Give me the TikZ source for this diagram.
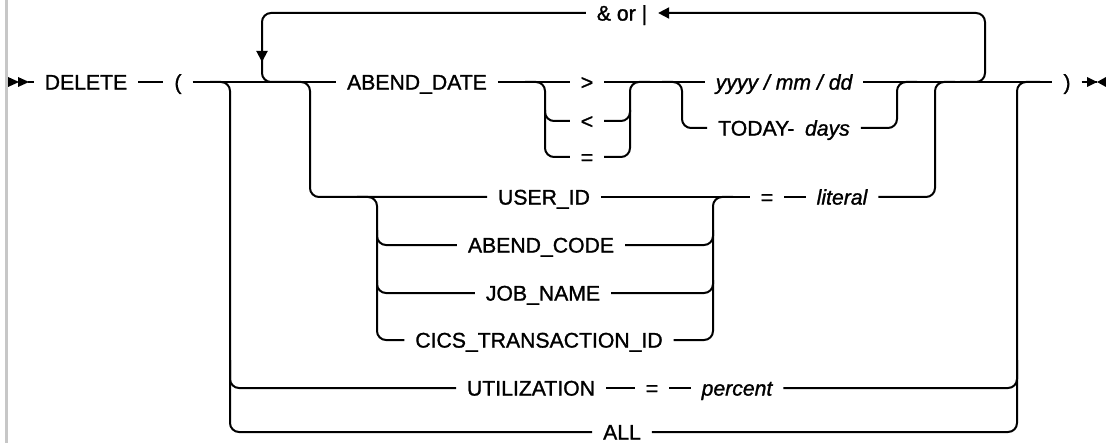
\documentclass[tikz,border=0pt]{standalone}
\usepackage{fontspec}
\setmainfont{Liberation Sans}[FakeBold=1.2]
\usetikzlibrary{arrows.meta}

\begin{document}
\begin{tikzpicture}[x=.5pt,y=-.5pt,line width=1pt,
  every node/.style={font=\fontsize{10.6}{12}\selectfont,inner xsep=5pt,inner ysep=0pt,
    text height=7.6pt,text depth=0pt},
  var/.style={font=\fontsize{10.6}{12}\selectfont\itshape},
  rail/.style={rounded corners=4.5pt},
  tip/.style={-{Triangle[length=5.5pt,width=5.5pt]}}]
  \path[use as bounding box] (0,0) rectangle (1106,443);
  \fill[black!22] (5,0) rectangle (8,443);
  % main line
  \node (del) at (86,82) {DELETE};
  \node (lp) at (178,82) {(};
  \node (adate) at (417,82) {ABEND\_DATE};
  \node (gt) at (587,82) {>};
  \node (lt) at (587,121) {<};
  \node (eqa) at (587,157) {=};
  \node[var] (ymd) at (784,82) {yyyy / mm / dd};
  \node (today) at (784,128) {TODAY-\enspace\textit{days}};
  \node (rp) at (1067,82) {)};
  \node (andor) at (622,13) {\& or |};
  \coordinate (st) at (28,82);
  \coordinate (en) at (1097,82);
  \fill (8,77)--(19,82)--(8,87)--cycle (18,77)--(29,82)--(18,87)--cycle;
  \fill (1087,77)--(1097,82)--(1087,87)--cycle (1106,77)--(1097,82)--(1106,87)--cycle;
  \draw (st) -- (del) -- (lp) -- (adate) -- (gt) -- (ymd) -- (rp) -- (en);
  % repeat loop
  \draw[rail,tip] (960,82) -- (985,82) -- (985,13) -- (andor);
  \draw[rail] (andor) -- (262,13) -- (262,82) -- (290,82);
  \draw[tip] (262,40) -- (262,62);
  % comparison
  \draw[rail] (525,82) -- (545,82) -- (545,157) -- (eqa);
  \draw[rail] (545,110) -- (545,121) -- (lt);
  \draw[rail] (eqa) -- (630,157) -- (630,82) -- (650,82);
  \draw[rail] (lt) -- (630,121) -- (630,110);
  % date
  \draw[rail] (662,82) -- (682,82) -- (682,128) -- (today);
  \draw[rail] (today) -- (897,128) -- (897,82) -- (917,82);
  % user id group
  \node (uid) at (544,197) {USER\_ID};
  \node (acode) at (541,245) {ABEND\_CODE};
  \node (job) at (543,293) {JOB\_NAME};
  \node (cics) at (539,340) {CICS\_TRANSACTION\_ID};
  \node (eqb) at (767,197) {=};
  \node[var] (lit) at (842,197) {literal};
  \draw (uid) -- (eqb) -- (lit);
  \draw[rail] (290,82) -- (310,82) -- (310,197) -- (uid);
  \draw[rail] (lit) -- (935,197) -- (935,82) -- (955,82);
  \draw[rail] (357,197) -- (377,197) -- (377,340) -- (cics);
  \draw[rail] (377,230) -- (377,245) -- (acode);
  \draw[rail] (377,280) -- (377,293) -- (job);
  \draw[rail] (cics) -- (713,340) -- (713,197) -- (733,197);
  \draw[rail] (acode) -- (713,245) -- (713,230);
  \draw[rail] (job) -- (713,293) -- (713,280);
  % utilization / all
  \node (util) at (531,388) {UTILIZATION};
  \node (equ) at (652,388) {=};
  \node[var] (pct) at (737,388) {percent};
  \node (all) at (622,432) {ALL};
  \draw (util) -- (equ) -- (pct);
  \draw[rail] (210,82) -- (230,82) -- (230,432) -- (all);
  \draw[rail] (230,360) -- (230,388) -- (util);
  \draw[rail] (all) -- (1017,432) -- (1017,82) -- (1040,82);
  \draw[rail] (pct) -- (1017,388) -- (1017,360);
\end{tikzpicture}
\end{document}
